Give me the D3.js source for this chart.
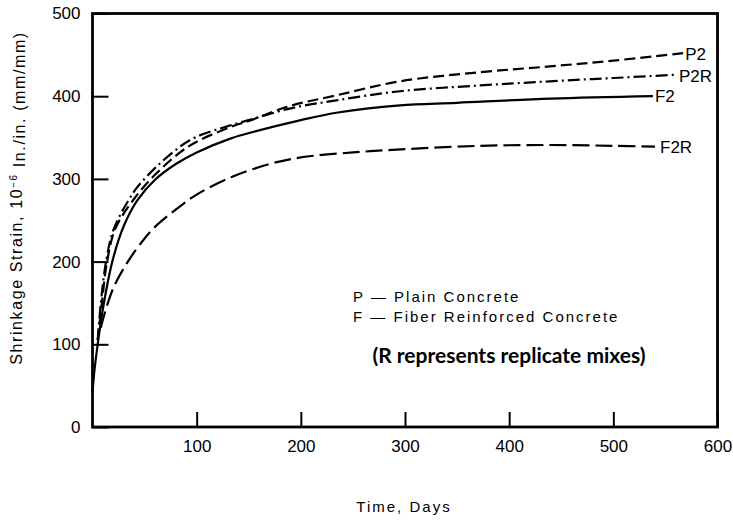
<!DOCTYPE html>
<html>
<head>
<meta charset="utf-8">
<script src="https://cdn.jsdelivr.net/npm/d3@7"></script>
<style>
  body { margin: 0; background: #fff; }
  svg { display: block; background: #fff; }
  .tick text { font-family: "Liberation Sans", Arial, sans-serif; font-size: 17px; fill: #000; }
  .tick line { stroke: #000; stroke-width: 2; }
  .lbl { font-family: "Liberation Sans", Arial, sans-serif; fill: #000; }
</style>
</head>
<body>
<div id="chart"></div>
<script>
var width = 733,
    height = 522;

// axis ticks
var xTicks = [100, 200, 300, 400, 500, 600];
var yTicks = [0, 100, 200, 300, 400, 500];

// series as [day, strain]
var p2Data = [[5,105],[9,150],[14,200],[22,240],[40,276],[60,305],[84,332],[100,345],[133,363],[150,370],[189,388],[234,401],[295,418],[372,429],[439,436],[500,443],[567,452]];
var p2rData = [[5,105],[8,150],[13,200],[20,238],[34,273],[43,290],[60,313],[84,339],[100,351],[133,365],[150,371],[189,385],[234,395],[295,406],[372,413],[439,418],[500,422],[561,426]];
var f2Data = [[0,42],[2,70],[5,100],[10,143],[19,200],[30,243],[43,274],[60,299],[80,318],[100,332],[133,349],[155,357],[200,371],[234,380],[295,389],[350,392],[440,397],[538,400]];
var f2rData = [[8,120],[10,130],[20,168],[34,200],[50,228],[60,242],[79,262],[100,281],[133,302],[170,318],[200,326],[250,332],[300,336],[372,340],[439,341],[500,340],[540,339]];

var seriesNames = ["P2", "P2R", "F2", "F2R"];
var seriesData = [p2Data, p2rData, f2Data, f2rData];
var dashes = ["11,5", "12,4,2,4", null, "17,6"];
var labelNudge = [[2, 1], [2, 1], [2, 0], [5, 0]];

var legendLines = ["P \u2014 Plain Concrete", "F \u2014 Fiber Reinforced Concrete"];

var svg = d3.select("#chart")
    .append("svg")
    .attr("width", width)
    .attr("height", height);

var x = d3.scaleLinear().domain([0, 600]).range([92.5, 717.5]);
var y = d3.scaleLinear().domain([0, 500]).range([427, 13.5]);

// axes, ticks point inward
svg.append("g")
    .attr("transform", "translate(0," + y(0) + ")")
    .call(d3.axisBottom(x).tickValues(xTicks).tickSize(-15).tickPadding(13))
    .call(function (g) { g.select(".domain").remove(); });

svg.append("g")
    .attr("transform", "translate(" + x(0) + ",0)")
    .call(d3.axisLeft(y).tickValues(yTicks).tickSize(-16).tickPadding(12))
    .call(function (g) { g.select(".domain").remove(); });

// frame
svg.append("rect")
    .attr("x", x(0))
    .attr("y", y(500))
    .attr("width", x(600) - x(0))
    .attr("height", y(0) - y(500))
    .style("fill", "none")
    .style("stroke", "#000")
    .style("stroke-width", 2.8);

var line = d3.line()
    .x(function (d) { return x(d[0]); })
    .y(function (d) { return y(d[1]); })
    .curve(d3.curveCatmullRom.alpha(0.5));

seriesData.forEach(function (data, i) {
    svg.append("path")
        .datum(data)
        .attr("d", line)
        .style("fill", "none")
        .style("stroke", "#000")
        .style("stroke-width", 2.2)
        .style("stroke-dasharray", dashes[i]);

    var last = data[data.length - 1];
    svg.append("text")
        .attr("class", "lbl")
        .attr("x", x(last[0]) + labelNudge[i][0])
        .attr("y", y(last[1]) + labelNudge[i][1])
        .attr("dy", "0.35em")
        .style("font-size", "17px")
        .text(seriesNames[i]);
});

// legend notes
legendLines.forEach(function (t, i) {
    svg.append("text")
        .attr("class", "lbl")
        .attr("x", 353)
        .attr("y", 301.5 + i * 20)
        .style("font-size", "15px")
        .style("letter-spacing", "2px")
        .text(t);
});

svg.append("text")
    .attr("x", 509)
    .attr("y", 363)
    .style("text-anchor", "middle")
    .style("font-family", "Lato, 'Open Sans', sans-serif")
    .style("font-weight", "bold")
    .style("font-size", "21px")
    .style("fill", "#000")
    .text("(R represents replicate mixes)");

// axis titles
svg.append("text")
    .attr("class", "lbl")
    .attr("x", 404)
    .attr("y", 512)
    .style("text-anchor", "middle")
    .style("font-size", "15px")
    .style("letter-spacing", "2px")
    .text("Time, Days");

var yTitle = svg.append("text")
    .attr("class", "lbl")
    .attr("transform", "translate(22,198) rotate(-90)")
    .style("text-anchor", "middle")
    .style("font-size", "16px")
    .style("letter-spacing", "1.6px");
yTitle.append("tspan").text("Shrinkage Strain, 10");
yTitle.append("tspan").attr("dy", "-0.5em").style("font-size", "10px").text("\u22126");
yTitle.append("tspan").attr("dy", "0.5em").text(" In./in. (mm/mm)");
</script>
</body>
</html>
